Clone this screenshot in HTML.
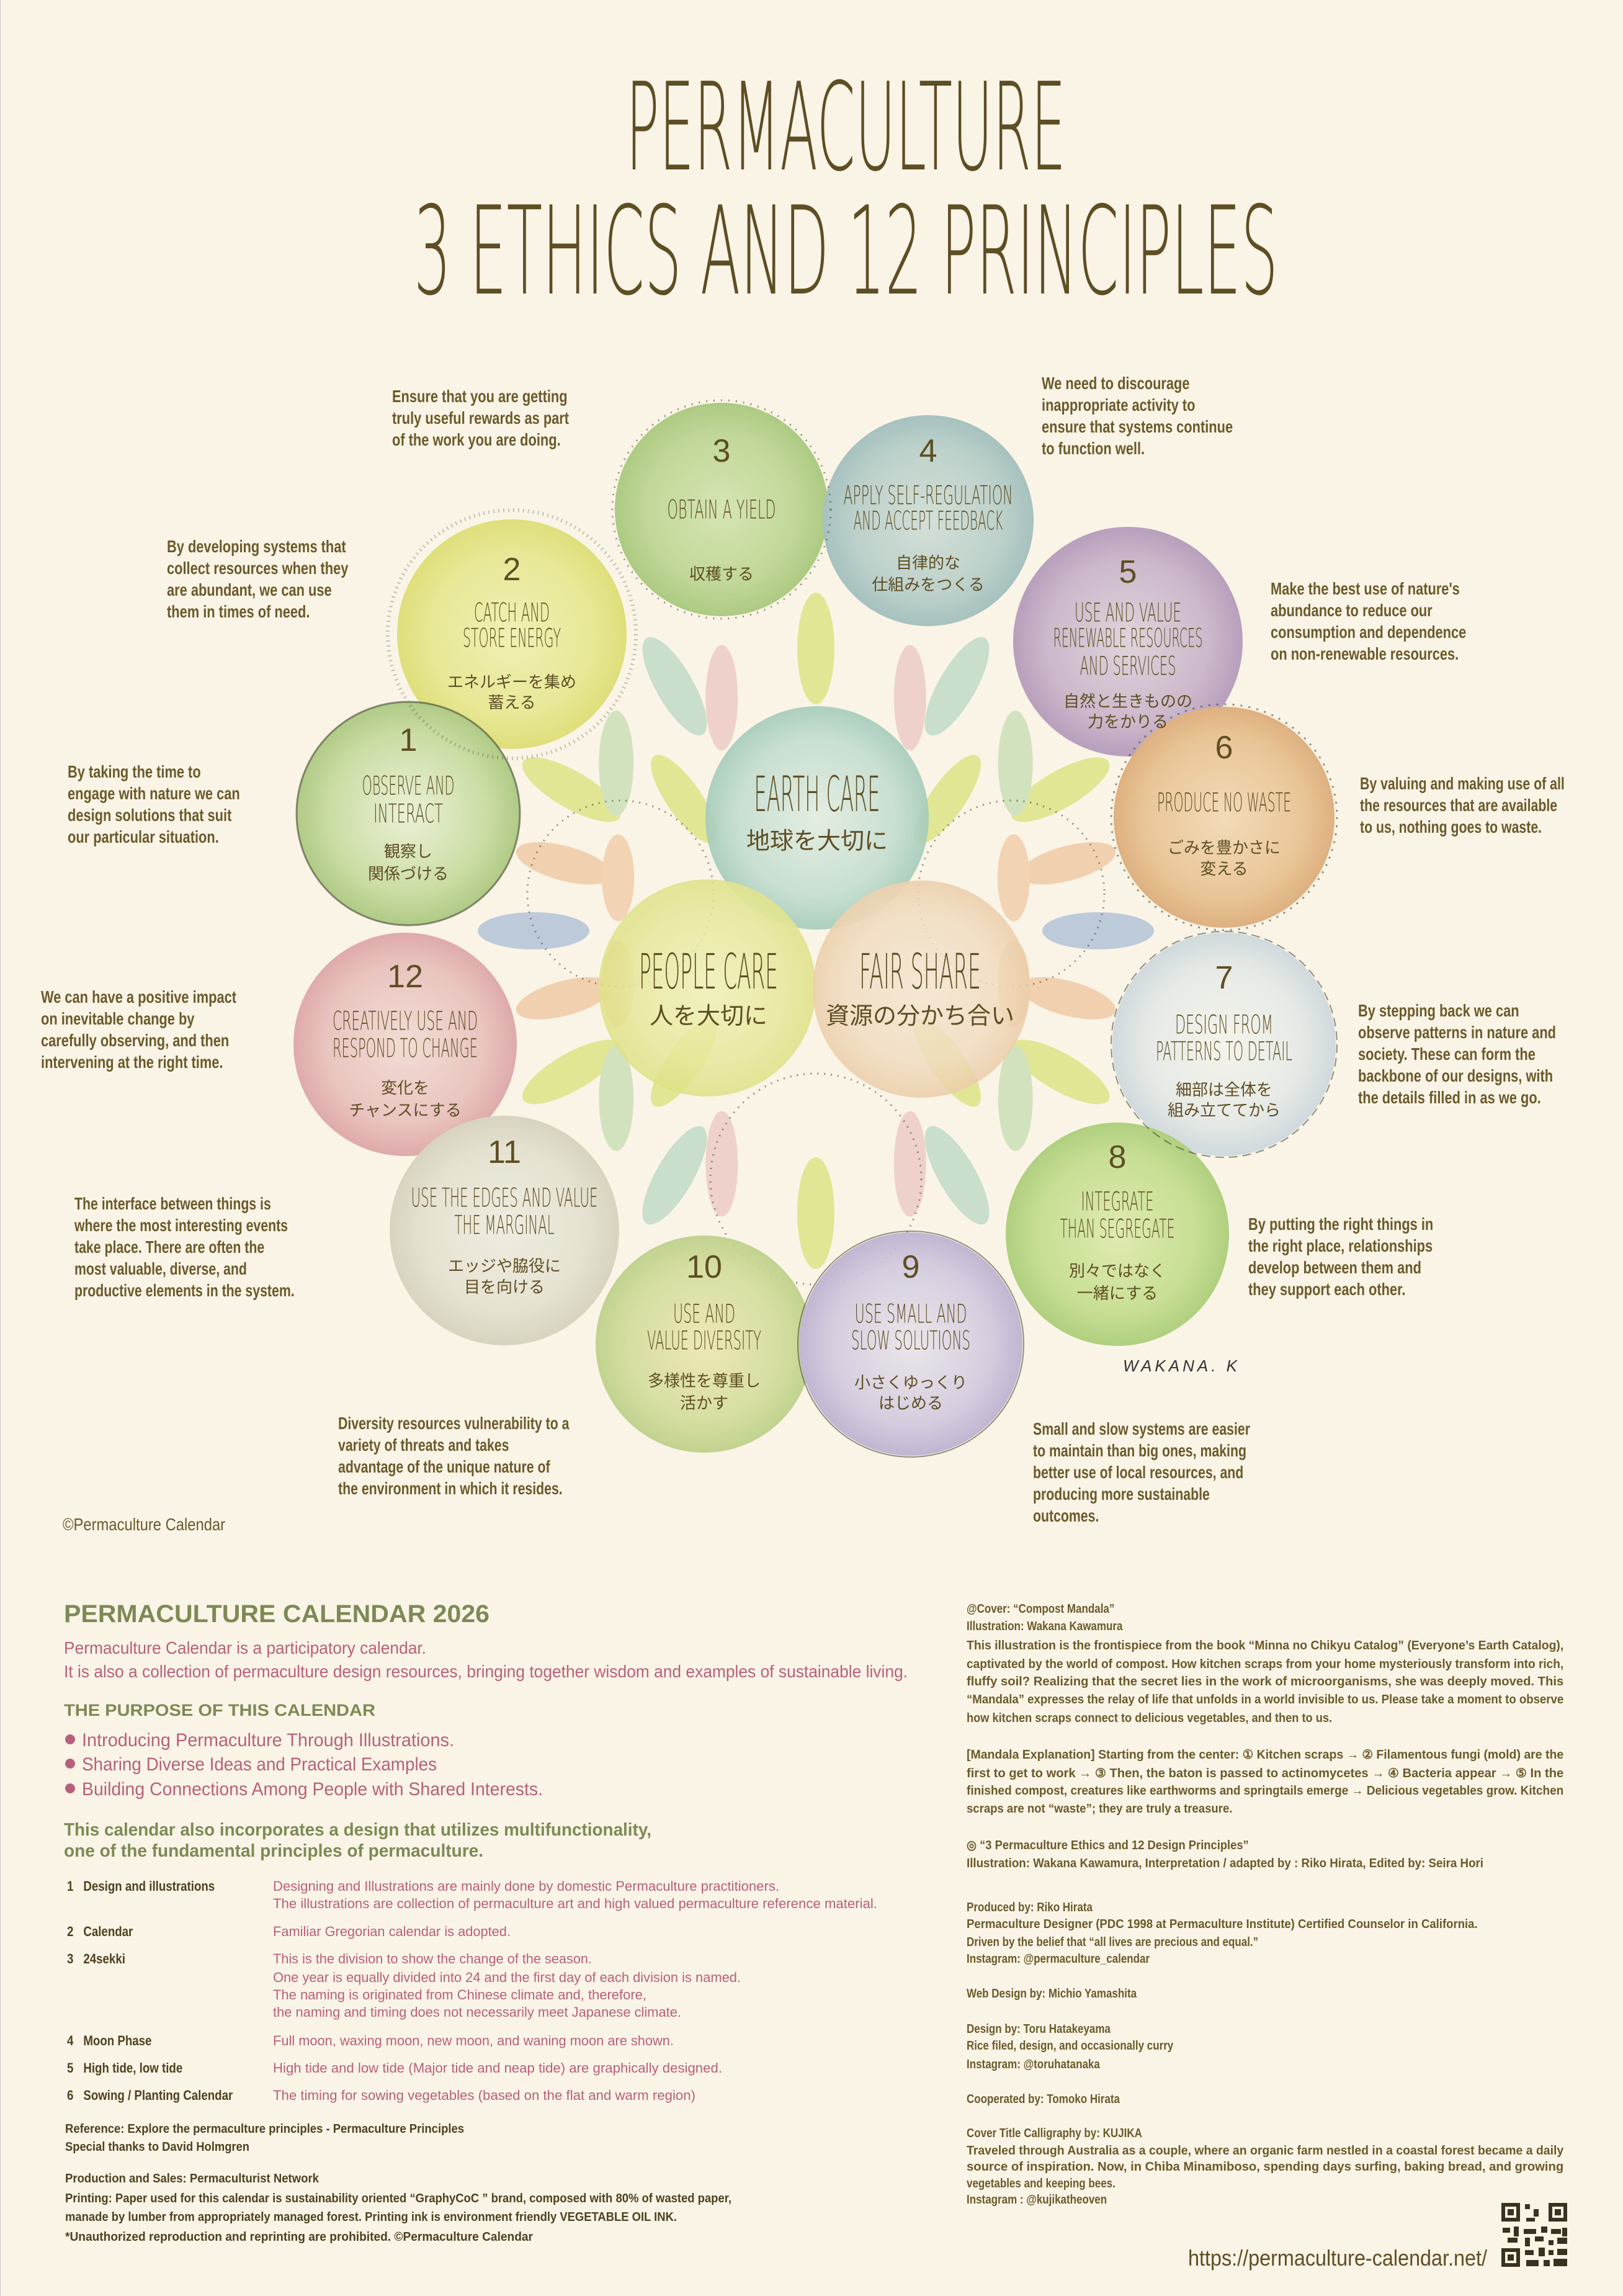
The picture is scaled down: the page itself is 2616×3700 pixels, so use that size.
<!DOCTYPE html>
<html><head><meta charset="utf-8"><style>
html,body{margin:0;padding:0;background:#faf4e7;}
svg{display:block;}
</style></head><body>
<svg xmlns="http://www.w3.org/2000/svg" width="2616" height="3700" viewBox="0 0 2616 3700">
<defs>
<radialGradient id="g1" cx="50%" cy="50%" r="50%"><stop offset="0" stop-color="#e9f0d6"/><stop offset="0.7" stop-color="#c7da9f"/><stop offset="1" stop-color="#a9c67e"/></radialGradient>
<radialGradient id="g2"><stop offset="0" stop-color="#eef0b0"/><stop offset="0.7" stop-color="#e6e690"/><stop offset="1" stop-color="#dcdc72"/></radialGradient>
<radialGradient id="g3"><stop offset="0" stop-color="#d3e3ae"/><stop offset="0.7" stop-color="#bcd492"/><stop offset="1" stop-color="#a6c67a"/></radialGradient>
<radialGradient id="g4"><stop offset="0" stop-color="#d0ddd6"/><stop offset="0.7" stop-color="#b7cdc8"/><stop offset="1" stop-color="#9fbcbc"/></radialGradient>
<radialGradient id="g5"><stop offset="0" stop-color="#ddd0da"/><stop offset="0.7" stop-color="#c8b3c9"/><stop offset="1" stop-color="#b297b9"/></radialGradient>
<radialGradient id="g6"><stop offset="0" stop-color="#f2d8b5"/><stop offset="0.7" stop-color="#e8c292"/><stop offset="1" stop-color="#dcaa78"/></radialGradient>
<radialGradient id="g7"><stop offset="0" stop-color="#f5f3ec"/><stop offset="0.7" stop-color="#e4e8e6"/><stop offset="1" stop-color="#ccd6dc"/></radialGradient>
<radialGradient id="g8"><stop offset="0" stop-color="#dde9ab"/><stop offset="0.7" stop-color="#c3dc8e"/><stop offset="1" stop-color="#a9cc76"/></radialGradient>
<radialGradient id="g9"><stop offset="0" stop-color="#e9e4ea"/><stop offset="0.7" stop-color="#d3cadf"/><stop offset="1" stop-color="#bbb0d0"/></radialGradient>
<radialGradient id="g10"><stop offset="0" stop-color="#ece6b2"/><stop offset="0.7" stop-color="#d3dc9c"/><stop offset="1" stop-color="#bccf88"/></radialGradient>
<radialGradient id="g11"><stop offset="0" stop-color="#eeebe0"/><stop offset="0.7" stop-color="#e3e0d0"/><stop offset="1" stop-color="#d4d0bc"/></radialGradient>
<radialGradient id="g12"><stop offset="0" stop-color="#f1dad3"/><stop offset="0.7" stop-color="#e8c0bd"/><stop offset="1" stop-color="#dca3a6"/></radialGradient>
<radialGradient id="gE"><stop offset="0" stop-color="#e2ece2"/><stop offset="0.7" stop-color="#c4ddd0"/><stop offset="1" stop-color="#a6cbbb"/></radialGradient>
<radialGradient id="gP"><stop offset="0" stop-color="#eff1b8"/><stop offset="0.7" stop-color="#e7e99a"/><stop offset="1" stop-color="#dee285"/></radialGradient>
<radialGradient id="gF"><stop offset="0" stop-color="#f6e6d2"/><stop offset="0.7" stop-color="#f2dcc0"/><stop offset="1" stop-color="#ebcda8"/></radialGradient>
</defs>
<rect width="2616" height="3700" fill="#faf4e7"/>
<line x1="0.5" y1="0" x2="0.5" y2="3700" stroke="#c8c8c8" stroke-width="1"/>

<!-- Title -->
<g fill="#5e4e24" font-family="'DejaVu Sans ExtraLight','DejaVu Sans','Liberation Sans', sans-serif" font-weight="200">
<text x="1009" y="273" font-size="196" textLength="709" lengthAdjust="spacingAndGlyphs">PERMACULTURE</text>
<text x="667" y="473" font-size="197" textLength="1393" lengthAdjust="spacingAndGlyphs">3 ETHICS AND 12 PRINCIPLES</text>
</g>

<!-- Petals -->
<g opacity="0.75">
<g transform="translate(1315,1500)">
<g transform="rotate(0)"><ellipse cx="0" cy="-455" rx="30" ry="90" fill="#d8e27a"/></g>
<g transform="rotate(30)"><ellipse cx="0" cy="-455" rx="30" ry="90" fill="#b9d7c2"/></g>
<g transform="rotate(60)"><ellipse cx="0" cy="-455" rx="30" ry="90" fill="#d8e27a"/></g>
<g transform="rotate(90)"><ellipse cx="0" cy="-455" rx="30" ry="90" fill="#a9bcd6"/></g>
<g transform="rotate(120)"><ellipse cx="0" cy="-455" rx="30" ry="90" fill="#d8e27a"/></g>
<g transform="rotate(150)"><ellipse cx="0" cy="-455" rx="30" ry="90" fill="#b9d7c2"/></g>
<g transform="rotate(180)"><ellipse cx="0" cy="-455" rx="30" ry="90" fill="#d8e27a"/></g>
<g transform="rotate(210)"><ellipse cx="0" cy="-455" rx="30" ry="90" fill="#b9d7c2"/></g>
<g transform="rotate(240)"><ellipse cx="0" cy="-455" rx="30" ry="90" fill="#d8e27a"/></g>
<g transform="rotate(270)"><ellipse cx="0" cy="-455" rx="30" ry="90" fill="#a9bcd6"/></g>
<g transform="rotate(300)"><ellipse cx="0" cy="-455" rx="30" ry="90" fill="#d8e27a"/></g>
<g transform="rotate(330)"><ellipse cx="0" cy="-455" rx="30" ry="90" fill="#b9d7c2"/></g>

<g transform="rotate(-22)"><ellipse cx="0" cy="-405" rx="26" ry="85" fill="#eac6c0" transform="rotate(22 0 -405)"/></g>
<g transform="rotate(22)"><ellipse cx="0" cy="-405" rx="26" ry="85" fill="#eac6c0" transform="rotate(-22 0 -405)"/></g>
<g transform="rotate(-50)"><ellipse cx="0" cy="-420" rx="28" ry="85" fill="#c6dcb0" transform="rotate(50 0 -420)"/></g>
<g transform="rotate(50)"><ellipse cx="0" cy="-420" rx="28" ry="85" fill="#c6dcb0" transform="rotate(-50 0 -420)"/></g>
<g transform="rotate(-75)"><ellipse cx="0" cy="-420" rx="28" ry="80" fill="#ecc49c"/></g>
<g transform="rotate(75)"><ellipse cx="0" cy="-420" rx="28" ry="80" fill="#ecc49c"/></g>
<g transform="rotate(-105)"><ellipse cx="0" cy="-420" rx="28" ry="80" fill="#ecc49c"/></g>
<g transform="rotate(105)"><ellipse cx="0" cy="-420" rx="28" ry="80" fill="#ecc49c"/></g>
<g transform="rotate(-130)"><ellipse cx="0" cy="-420" rx="28" ry="85" fill="#c6dcb0" transform="rotate(130 0 -420)"/></g>
<g transform="rotate(130)"><ellipse cx="0" cy="-420" rx="28" ry="85" fill="#c6dcb0" transform="rotate(-130 0 -420)"/></g>
<g transform="rotate(-158)"><ellipse cx="0" cy="-405" rx="26" ry="85" fill="#eac6c0" transform="rotate(158 0 -405)"/></g>
<g transform="rotate(158)"><ellipse cx="0" cy="-405" rx="26" ry="85" fill="#eac6c0" transform="rotate(-158 0 -405)"/></g>

<g transform="rotate(45)"><ellipse cx="0" cy="-300" rx="28" ry="85" fill="#d8e27a" transform="rotate(-10 0 -300)"/></g>
<g transform="rotate(-45)"><ellipse cx="0" cy="-300" rx="28" ry="85" fill="#d8e27a" transform="rotate(10 0 -300)"/></g>
<g transform="rotate(-75)"><ellipse cx="0" cy="-330" rx="26" ry="70" fill="#efc9a2" transform="rotate(75 0 -330)"/></g>
<g transform="rotate(75)"><ellipse cx="0" cy="-330" rx="26" ry="70" fill="#efc9a2" transform="rotate(-75 0 -330)"/></g>
<g transform="rotate(-105)"><ellipse cx="0" cy="-330" rx="26" ry="70" fill="#efc9a2" transform="rotate(105 0 -330)"/></g>
<g transform="rotate(105)"><ellipse cx="0" cy="-330" rx="26" ry="70" fill="#efc9a2" transform="rotate(-105 0 -330)"/></g>
<g transform="rotate(135)"><ellipse cx="0" cy="-300" rx="28" ry="85" fill="#d8e27a" transform="rotate(10 0 -300)"/></g>
<g transform="rotate(-135)"><ellipse cx="0" cy="-300" rx="28" ry="85" fill="#d8e27a" transform="rotate(-10 0 -300)"/></g>
</g>
</g>

<!-- stipple regions -->
<g fill="none" stroke="#444" stroke-width="3" stroke-dasharray="2 9" opacity="0.6">
<circle cx="1000" cy="1440" r="150"/>
<circle cx="1630" cy="1440" r="150"/>
<circle cx="1315" cy="1900" r="170"/>
</g>

<!-- Circles -->
<g opacity="0.92">
<circle cx="1163" cy="821" r="172" fill="url(#g3)"/>
<circle cx="1496" cy="839" r="170" fill="url(#g4)"/>
<circle cx="825" cy="1022" r="185" fill="url(#g2)"/>
<circle cx="1818" cy="1034" r="185" fill="url(#g5)"/>
<circle cx="658" cy="1311" r="180" fill="url(#g1)"/>
<circle cx="1973" cy="1317" r="178" fill="url(#g6)"/>
<circle cx="653" cy="1683" r="180" fill="url(#g12)"/>
<circle cx="1973" cy="1683" r="180" fill="url(#g7)"/>
<circle cx="813" cy="1983" r="185" fill="url(#g11)"/>
<circle cx="1801" cy="1989" r="180" fill="url(#g8)"/>
<circle cx="1135" cy="2166" r="175" fill="url(#g10)"/>
<circle cx="1468" cy="2166" r="180" fill="url(#g9)"/>
<circle cx="1317" cy="1318" r="180" fill="url(#gE)"/>
<circle cx="1140" cy="1592" r="175" fill="url(#gP)" opacity="0.9"/>
<circle cx="1485" cy="1594" r="175" fill="url(#gF)" opacity="0.9"/>
</g>
<g fill="none" stroke="#3b3b2a" stroke-width="3" opacity="0.55">
<circle cx="658" cy="1311" r="180"/>
<circle cx="1973" cy="1317" r="182" stroke-dasharray="3 10"/>
<circle cx="825" cy="1022" r="200" stroke-dasharray="2 6" stroke-width="6" opacity="0.5"/>
<circle cx="1163" cy="821" r="176" stroke-dasharray="2 10"/>
<circle cx="1973" cy="1683" r="182" stroke-dasharray="14 8" stroke-width="2"/>
<circle cx="1468" cy="2166" r="182" stroke-width="2"/>
</g>
<text x="1810" y="2210" font-family="'Liberation Sans', sans-serif" font-size="26" fill="#333" font-style="italic" letter-spacing="5">WAKANA. K</text>

<!-- Circle labels -->
<g fill="#5e4e24" font-family="'DejaVu Sans ExtraLight','DejaVu Sans','Liberation Sans', sans-serif" font-weight="200" text-anchor="middle" dominant-baseline="central">
<g font-size="52" font-family="'Liberation Sans', sans-serif" font-weight="normal">
<text x="658" y="1193">1</text>
<text x="825" y="918">2</text>
<text x="1163" y="727">3</text>
<text x="1496" y="727">4</text>
<text x="1818" y="922">5</text>
<text x="1973" y="1205">6</text>
<text x="1973" y="1576">7</text>
<text x="1801" y="1865">8</text>
<text x="1468" y="2042">9</text>
<text x="1135" y="2042">10</text>
<text x="813" y="1857">11</text>
<text x="653" y="1574">12</text>
</g>
<g font-size="42">
<text x="658" y="1266" textLength="149" lengthAdjust="spacingAndGlyphs">OBSERVE AND</text>
<text x="658" y="1311" textLength="112" lengthAdjust="spacingAndGlyphs">INTERACT</text>
<text x="825" y="987" textLength="122" lengthAdjust="spacingAndGlyphs">CATCH AND</text>
<text x="825" y="1028" textLength="158" lengthAdjust="spacingAndGlyphs">STORE ENERGY</text>
<text x="1163" y="821" textLength="175" lengthAdjust="spacingAndGlyphs">OBTAIN A YIELD</text>
<text x="1496" y="798" textLength="273" lengthAdjust="spacingAndGlyphs">APPLY SELF-REGULATION</text>
<text x="1496" y="839" textLength="241" lengthAdjust="spacingAndGlyphs">AND ACCEPT FEEDBACK</text>
<text x="1818" y="987" textLength="172" lengthAdjust="spacingAndGlyphs">USE AND VALUE</text>
<text x="1818" y="1028" textLength="241" lengthAdjust="spacingAndGlyphs">RENEWABLE RESOURCES</text>
<text x="1818" y="1073" textLength="155" lengthAdjust="spacingAndGlyphs">AND SERVICES</text>
<text x="1973" y="1293" textLength="216" lengthAdjust="spacingAndGlyphs">PRODUCE NO WASTE</text>
<text x="1973" y="1651" textLength="158" lengthAdjust="spacingAndGlyphs">DESIGN FROM</text>
<text x="1973" y="1694" textLength="220" lengthAdjust="spacingAndGlyphs">PATTERNS TO DETAIL</text>
<text x="1801" y="1936" textLength="117" lengthAdjust="spacingAndGlyphs">INTEGRATE</text>
<text x="1801" y="1980" textLength="185" lengthAdjust="spacingAndGlyphs">THAN SEGREGATE</text>
<text x="1468" y="2117" textLength="181" lengthAdjust="spacingAndGlyphs">USE SMALL AND</text>
<text x="1468" y="2160" textLength="192" lengthAdjust="spacingAndGlyphs">SLOW SOLUTIONS</text>
<text x="1135" y="2117" textLength="100" lengthAdjust="spacingAndGlyphs">USE AND</text>
<text x="1135" y="2160" textLength="184" lengthAdjust="spacingAndGlyphs">VALUE DIVERSITY</text>
<text x="813" y="1930" textLength="301" lengthAdjust="spacingAndGlyphs">USE THE EDGES AND VALUE</text>
<text x="813" y="1974" textLength="161" lengthAdjust="spacingAndGlyphs">THE MARGINAL</text>
<text x="653" y="1645" textLength="234" lengthAdjust="spacingAndGlyphs">CREATIVELY USE AND</text>
<text x="653" y="1689" textLength="234" lengthAdjust="spacingAndGlyphs">RESPOND TO CHANGE</text>
</g>
<g font-size="78">
<text x="1317" y="1281" textLength="203" lengthAdjust="spacingAndGlyphs">EARTH CARE</text>
<text x="1142" y="1567" textLength="224" lengthAdjust="spacingAndGlyphs">PEOPLE CARE</text>
<text x="1483" y="1567" textLength="196" lengthAdjust="spacingAndGlyphs">FAIR SHARE</text>
</g>
<g font-family="'Liberation Sans','Noto Sans CJK JP',sans-serif" font-weight="normal" font-size="38">
<text x="1317" y="1356">地球を大切に</text>
<text x="1142" y="1638">人を大切に</text>
<text x="1483" y="1638">資源の分かち合い</text>
</g>
<g font-family="'Liberation Sans','Noto Sans CJK JP',sans-serif" font-weight="normal" font-size="26">
<text x="658" y="1372">観察し</text>
<text x="658" y="1408">関係づける</text>
<text x="825" y="1099">エネルギーを集め</text>
<text x="825" y="1132">蓄える</text>
<text x="1163" y="925">収穫する</text>
<text x="1496" y="907">自律的な</text>
<text x="1496" y="942">仕組みをつくる</text>
<text x="1818" y="1130">自然と生きものの</text>
<text x="1818" y="1163">力をかりる</text>
<text x="1973" y="1366">ごみを豊かさに</text>
<text x="1973" y="1400">変える</text>
<text x="1973" y="1756">細部は全体を</text>
<text x="1973" y="1789">組み立ててから</text>
<text x="1801" y="2048">別々ではなく</text>
<text x="1801" y="2084">一緒にする</text>
<text x="1468" y="2228">小さくゆっくり</text>
<text x="1468" y="2261">はじめる</text>
<text x="1135" y="2225">多様性を尊重し</text>
<text x="1135" y="2261">活かす</text>
<text x="813" y="2040">エッジや脇役に</text>
<text x="813" y="2074">目を向ける</text>
<text x="653" y="1753">変化を</text>
<text x="653" y="1789">チャンスにする</text>
</g>
</g>

<!-- Annotations -->
<g fill="#6b5a2a" font-family="'Liberation Sans', sans-serif" font-weight="bold" font-size="28">
<g transform="translate(632,648) scale(0.78,1)"><text x="0" y="0">Ensure that you are getting</text><text x="0" y="35">truly useful rewards as part</text><text x="0" y="70">of the work you are doing.</text></g>
<g transform="translate(1679,627) scale(0.78,1)"><text x="0" y="0">We need to discourage</text><text x="0" y="35">inappropriate activity to</text><text x="0" y="70">ensure that systems continue</text><text x="0" y="105">to function well.</text></g>
<g transform="translate(269,890) scale(0.78,1)"><text x="0" y="0">By developing systems that</text><text x="0" y="35">collect resources when they</text><text x="0" y="70">are abundant, we can use</text><text x="0" y="105">them in times of need.</text></g>
<g transform="translate(2048,958) scale(0.78,1)"><text x="0" y="0">Make the best use of nature's</text><text x="0" y="35">abundance to reduce our</text><text x="0" y="70">consumption and dependence</text><text x="0" y="105">on non-renewable resources.</text></g>
<g transform="translate(109,1253) scale(0.78,1)"><text x="0" y="0">By taking the time to</text><text x="0" y="35">engage with nature we can</text><text x="0" y="70">design solutions that suit</text><text x="0" y="105">our particular situation.</text></g>
<g transform="translate(2192,1272) scale(0.76,1)"><text x="0" y="0">By valuing and making use of all</text><text x="0" y="35">the resources that are available</text><text x="0" y="70">to us, nothing goes to waste.</text></g>
<g transform="translate(66,1616) scale(0.78,1)"><text x="0" y="0">We can have a positive impact</text><text x="0" y="35">on inevitable change by</text><text x="0" y="70">carefully observing, and then</text><text x="0" y="105">intervening at the right time.</text></g>
<g transform="translate(2189,1638) scale(0.78,1)"><text x="0" y="0">By stepping back we can</text><text x="0" y="35">observe patterns in nature and</text><text x="0" y="70">society. These can form the</text><text x="0" y="105">backbone of our designs, with</text><text x="0" y="140">the details filled in as we go.</text></g>
<g transform="translate(120,1949) scale(0.76,1)"><text x="0" y="0">The interface between things is</text><text x="0" y="35">where the most interesting events</text><text x="0" y="70">take place. There are often the</text><text x="0" y="105">most valuable, diverse, and</text><text x="0" y="140">productive elements in the system.</text></g>
<g transform="translate(2012,1982) scale(0.78,1)"><text x="0" y="0">By putting the right things in</text><text x="0" y="35">the right place, relationships</text><text x="0" y="70">develop between them and</text><text x="0" y="105">they support each other.</text></g>
<g transform="translate(545,2303) scale(0.76,1)"><text x="0" y="0">Diversity resources vulnerability to a</text><text x="0" y="35">variety of threats and takes</text><text x="0" y="70">advantage of the unique nature of</text><text x="0" y="105">the environment in which it resides.</text></g>
<g transform="translate(1665,2312) scale(0.76,1)"><text x="0" y="0">Small and slow systems are easier</text><text x="0" y="35">to maintain than big ones, making</text><text x="0" y="70">better use of local resources, and</text><text x="0" y="105">producing more sustainable</text><text x="0" y="140">outcomes.</text></g>
<g transform="translate(101,2466) scale(0.85,1)" font-weight="normal"><text x="0" y="0">©Permaculture Calendar</text></g>
</g>

<!-- Bottom left -->
<g font-family="'Liberation Sans', sans-serif">
<text x="103" y="2614" font-size="40" font-weight="bold" fill="#7d8a55" textLength="686" lengthAdjust="spacingAndGlyphs">PERMACULTURE CALENDAR 2026</text>
<g fill="#b8607a" font-size="28">
<text x="103" y="2665" textLength="584" lengthAdjust="spacingAndGlyphs">Permaculture Calendar is a participatory calendar.</text>
<text x="103" y="2703" textLength="1360" lengthAdjust="spacingAndGlyphs">It is also a collection of permaculture design resources, bringing together wisdom and examples of sustainable living.</text>
</g>
<text x="103" y="2765" font-size="27" font-weight="bold" fill="#7d8a55" textLength="502" lengthAdjust="spacingAndGlyphs">THE PURPOSE OF THIS CALENDAR</text>
<g fill="#b8607a" font-size="30">
<circle cx="113" cy="2803" r="8"/><circle cx="113" cy="2842" r="8"/><circle cx="113" cy="2882" r="8"/>
<text x="132" y="2814" textLength="600" lengthAdjust="spacingAndGlyphs">Introducing Permaculture Through Illustrations.</text>
<text x="132" y="2853" textLength="572" lengthAdjust="spacingAndGlyphs">Sharing Diverse Ideas and Practical Examples</text>
<text x="132" y="2893" textLength="743" lengthAdjust="spacingAndGlyphs">Building Connections Among People with Shared Interests.</text>
</g>
<g fill="#7d8a55" font-size="29" font-weight="bold">
<text x="103" y="2958" textLength="947" lengthAdjust="spacingAndGlyphs">This calendar also incorporates a design that utilizes multifunctionality,</text>
<text x="103" y="2992" textLength="676" lengthAdjust="spacingAndGlyphs">one of the fundamental principles of permaculture.</text>
</g>
<g fill="#4e4220" font-size="22" font-weight="bold">
<g transform="translate(108,0) scale(0.85,1)">
<text x="0" y="3047">1</text><text x="31" y="3047">Design and illustrations</text>
<text x="0" y="3120">2</text><text x="31" y="3120">Calendar</text>
<text x="0" y="3164">3</text><text x="31" y="3164">24sekki</text>
<text x="0" y="3296">4</text><text x="31" y="3296">Moon Phase</text>
<text x="0" y="3340">5</text><text x="31" y="3340">High tide, low tide</text>
<text x="0" y="3384">6</text><text x="31" y="3384">Sowing / Planting Calendar</text>
</g>
</g>
<g fill="#b8607a" font-size="22">
<text x="440" y="3047" textLength="816" lengthAdjust="spacingAndGlyphs">Designing and Illustrations are mainly done by domestic Permaculture practitioners.</text>
<text x="440" y="3075" textLength="974" lengthAdjust="spacingAndGlyphs">The illustrations are collection of permaculture art and high valued permaculture reference material.</text>
<text x="440" y="3120" textLength="383" lengthAdjust="spacingAndGlyphs">Familiar Gregorian calendar is adopted.</text>
<text x="440" y="3164" textLength="514" lengthAdjust="spacingAndGlyphs">This is the division to show the change of the season.</text>
<text x="440" y="3194" textLength="754" lengthAdjust="spacingAndGlyphs">One year is equally divided into 24 and the first day of each division is named.</text>
<text x="440" y="3222" textLength="602" lengthAdjust="spacingAndGlyphs">The naming is originated from Chinese climate and, therefore,</text>
<text x="440" y="3250" textLength="658" lengthAdjust="spacingAndGlyphs">the naming and timing does not necessarily meet Japanese climate.</text>
<text x="440" y="3296" textLength="646" lengthAdjust="spacingAndGlyphs">Full moon, waxing moon, new moon, and waning moon are shown.</text>
<text x="440" y="3340" textLength="724" lengthAdjust="spacingAndGlyphs">High tide and low tide (Major tide and neap tide) are graphically designed.</text>
<text x="440" y="3384" textLength="681" lengthAdjust="spacingAndGlyphs">The timing for sowing vegetables (based on the flat and warm region)</text>
</g>
<g fill="#4e4220" font-size="20" font-weight="bold">
<text x="105" y="3437" textLength="643" lengthAdjust="spacingAndGlyphs">Reference: Explore the permaculture principles - Permaculture Principles</text>
<text x="105" y="3466" textLength="297" lengthAdjust="spacingAndGlyphs">Special thanks to David Holmgren</text>
<text x="105" y="3517" textLength="409" lengthAdjust="spacingAndGlyphs">Production and Sales: Permaculturist Network</text>
<text x="105" y="3549" textLength="1074" lengthAdjust="spacingAndGlyphs">Printing: Paper used for this calendar is sustainability oriented “GraphyCoC ” brand, composed with 80% of wasted paper,</text>
<text x="105" y="3579" textLength="986" lengthAdjust="spacingAndGlyphs">manade by lumber from appropriately managed forest. Printing ink is environment friendly VEGETABLE OIL INK.</text>
<text x="105" y="3611" textLength="754" lengthAdjust="spacingAndGlyphs">*Unauthorized reproduction and reprinting are prohibited.    ©Permaculture Calendar</text>
</g>
</g>

<!-- Bottom right -->
<g fill="#6b5a2a" font-family="'Liberation Sans', sans-serif" font-size="20" font-weight="bold">
<g transform="translate(1558,0) scale(0.85,1)">
<text x="0" y="2599">@Cover: “Compost Mandala”</text>
<text x="0" y="2627">Illustration: Wakana Kawamura</text>
<text x="0" y="2658" textLength="1132" lengthAdjust="spacingAndGlyphs">This illustration is the frontispiece from the book “Minna no Chikyu Catalog” (Everyone’s Earth Catalog),</text>
<text x="0" y="2688" textLength="1132" lengthAdjust="spacingAndGlyphs">captivated by the world of compost. How kitchen scraps from your home mysteriously transform into rich,</text>
<text x="0" y="2716" textLength="1132" lengthAdjust="spacingAndGlyphs">fluffy soil? Realizing that the secret lies in the work of microorganisms, she was deeply moved. This</text>
<text x="0" y="2745" textLength="1132" lengthAdjust="spacingAndGlyphs">“Mandala” expresses the relay of life that unfolds in a world invisible to us. Please take a moment to observe</text>
<text x="0" y="2775" textLength="693" lengthAdjust="spacingAndGlyphs">how kitchen scraps connect to delicious vegetables, and then to us.</text>
<text x="0" y="2834" textLength="1132" lengthAdjust="spacingAndGlyphs">[Mandala Explanation] Starting from the center: ① Kitchen scraps → ② Filamentous fungi (mold) are the</text>
<text x="0" y="2864" textLength="1132" lengthAdjust="spacingAndGlyphs">first to get to work → ③ Then, the baton is passed to actinomycetes → ④ Bacteria appear → ⑤ In the</text>
<text x="0" y="2892" textLength="1132" lengthAdjust="spacingAndGlyphs">finished compost, creatures like earthworms and springtails emerge → Delicious vegetables grow. Kitchen</text>
<text x="0" y="2921" textLength="504" lengthAdjust="spacingAndGlyphs">scraps are not “waste”; they are truly a treasure.</text>
<text x="0" y="2980" textLength="535" lengthAdjust="spacingAndGlyphs">◎ “3 Permaculture Ethics and 12 Design Principles”</text>
<text x="0" y="3009" textLength="980" lengthAdjust="spacingAndGlyphs">Illustration: Wakana Kawamura, Interpretation / adapted by : Riko Hirata, Edited by: Seira Hori</text>
<text x="0" y="3080">Produced by: Riko Hirata</text>
<text x="0" y="3107" textLength="969" lengthAdjust="spacingAndGlyphs">Permaculture Designer (PDC 1998 at Permaculture Institute) Certified Counselor in California.</text>
<text x="0" y="3136">Driven by the belief that “all lives are precious and equal.”</text>
<text x="0" y="3163">Instagram: @permaculture_calendar</text>
<text x="0" y="3219">Web Design by: Michio Yamashita</text>
<text x="0" y="3276">Design by: Toru Hatakeyama</text>
<text x="0" y="3303">Rice filed, design, and occasionally curry</text>
<text x="0" y="3333">Instagram: @toruhatanaka</text>
<text x="0" y="3389">Cooperated by: Tomoko Hirata</text>
<text x="0" y="3444">Cover Title Calligraphy by: KUJIKA</text>
<text x="0" y="3472" textLength="1132" lengthAdjust="spacingAndGlyphs">Traveled through Australia as a couple, where an organic farm nestled in a coastal forest became a daily</text>
<text x="0" y="3498" textLength="1132" lengthAdjust="spacingAndGlyphs">source of inspiration. Now, in Chiba Minamiboso, spending days surfing, baking bread, and growing</text>
<text x="0" y="3525">vegetables and keeping bees.</text>
<text x="0" y="3551">Instagram : @kujikatheoven</text>
</g>
</g>
<text x="1915" y="3651" font-family="'Liberation Sans', sans-serif" font-size="36" fill="#5e4e24" textLength="482" lengthAdjust="spacingAndGlyphs">https://permaculture-calendar.net/</text>

<!-- QR -->
<g fill="#3a3220">
<rect x="2420" y="3550" width="30" height="30"/><rect x="2426" y="3556" width="18" height="18" fill="#faf4e7"/><rect x="2430" y="3560" width="10" height="10"/>
<rect x="2496" y="3550" width="30" height="30"/><rect x="2502" y="3556" width="18" height="18" fill="#faf4e7"/><rect x="2506" y="3560" width="10" height="10"/>
<rect x="2420" y="3623" width="30" height="30"/><rect x="2426" y="3629" width="18" height="18" fill="#faf4e7"/><rect x="2430" y="3633" width="10" height="10"/>
<rect x="2458" y="3552" width="8" height="8"/><rect x="2472" y="3560" width="8" height="12"/><rect x="2460" y="3574" width="14" height="6"/>
<rect x="2422" y="3590" width="12" height="8"/><rect x="2440" y="3588" width="8" height="16"/><rect x="2456" y="3592" width="20" height="8"/>
<rect x="2484" y="3588" width="10" height="10"/><rect x="2500" y="3592" width="16" height="8"/><rect x="2518" y="3590" width="8" height="14"/>
<rect x="2430" y="3606" width="16" height="8"/><rect x="2458" y="3606" width="8" height="14"/><rect x="2474" y="3604" width="14" height="8"/>
<rect x="2496" y="3610" width="8" height="8"/><rect x="2510" y="3606" width="16" height="10"/><rect x="2458" y="3626" width="14" height="8"/>
<rect x="2480" y="3622" width="10" height="14"/><rect x="2496" y="3626" width="8" height="8"/><rect x="2510" y="3624" width="16" height="10"/>
<rect x="2460" y="3642" width="20" height="10"/><rect x="2488" y="3642" width="10" height="10"/><rect x="2504" y="3640" width="22" height="12"/>
</g>
</svg>
</body></html>
